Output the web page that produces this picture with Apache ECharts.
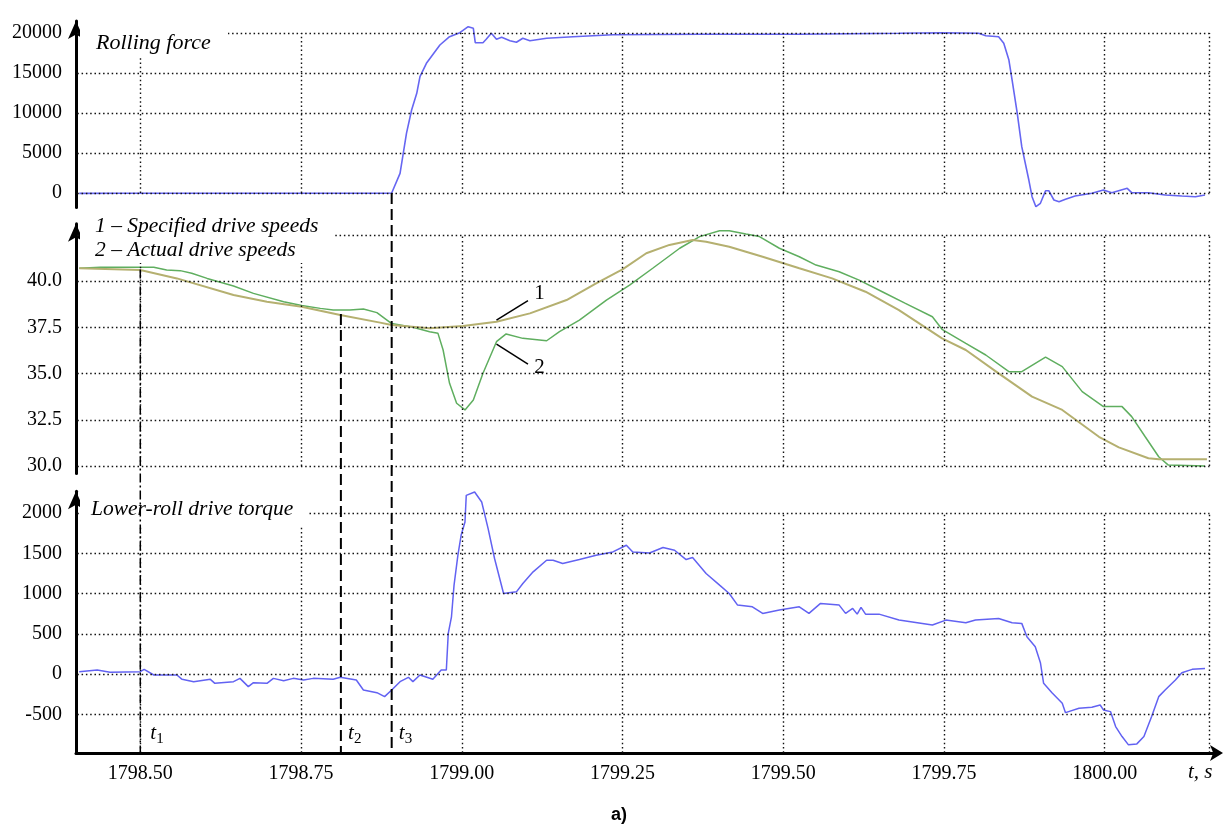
<!DOCTYPE html>
<html>
<head>
<meta charset="utf-8">
<script src="https://cdn.jsdelivr.net/npm/echarts@6/dist/echarts.min.js"></script>
<style>
  html, body { margin: 0; padding: 0; background: #fff; }
  #main { width: 1226px; height: 827px; }
</style>
</head>
<body>
<div id="main"></div>
<script>
// ---- data (time in s) ----
var forceT = [1798.405,1798.469,1798.593,1798.748,1798.880,1798.891,1798.904,1798.909,1798.914,1798.922,1798.930,1798.935,1798.945,1798.966,1798.981,1798.997,1799.010,1799.018,1799.021,1799.033,1799.038,1799.046,1799.054,1799.062,1799.075,1799.085,1799.095,1799.106,1799.132,1799.173,1799.235,1799.370,1799.525,1799.680,1799.747,1799.804,1799.815,1799.835,1799.843,1799.851,1799.856,1799.864,1799.871,1799.882,1799.887,1799.893,1799.900,1799.908,1799.913,1799.921,1799.929,1799.939,1799.954,1799.980,1799.998,1800.011,1800.035,1800.042,1800.068,1800.094,1800.120,1800.141,1800.156];
var forceV = [-50,-30,-40,-30,-30,0,2460,4960,7460,10380,12460,14540,16210,18500,19540,20040,20790,20590,18790,18790,19210,19960,19210,19460,19040,18840,19340,19040,19340,19540,19790,19850,19840,19960,20040,19960,19660,19540,18710,16620,14120,9960,5790,1620,-460,-1710,-1290,290,290,-875,-1090,-790,-375,-40,375,40,585,40,40,-250,-375,-460,-250];

var specT = [1798.405,1798.500,1798.557,1798.645,1798.697,1798.751,1798.811,1798.873,1798.891,1798.950,1799.002,1799.054,1799.106,1799.163,1799.209,1799.250,1799.287,1799.323,1799.359,1799.380,1799.416,1799.468,1799.525,1799.576,1799.628,1799.680,1799.747,1799.784,1799.835,1799.887,1799.934,1799.991,1800.022,1800.068,1800.084,1800.159];
var specV = [40.69,40.59,40.14,39.24,38.88,38.61,38.16,37.75,37.62,37.44,37.57,37.80,38.25,38.97,39.87,40.63,41.50,41.95,42.22,42.12,41.85,41.31,40.69,40.14,39.42,38.43,36.90,36.27,35.01,33.75,33.03,31.58,31.01,30.42,30.36,30.36];

var actT = [1798.405,1798.438,1798.521,1798.541,1798.562,1798.580,1798.604,1798.645,1798.676,1798.723,1798.751,1798.780,1798.800,1798.826,1798.847,1798.868,1798.891,1798.924,1798.950,1798.963,1798.971,1798.981,1798.992,1799.005,1799.018,1799.033,1799.054,1799.069,1799.095,1799.132,1799.152,1799.183,1799.225,1799.261,1799.297,1799.339,1799.370,1799.401,1799.416,1799.442,1799.463,1799.494,1799.525,1799.551,1799.587,1799.618,1799.654,1799.690,1799.732,1799.747,1799.784,1799.815,1799.851,1799.871,1799.908,1799.934,1799.965,1799.998,1800.027,1800.042,1800.063,1800.084,1800.099,1800.156];
var actV = [40.69,40.74,40.74,40.59,40.56,40.42,40.14,39.73,39.33,38.88,38.67,38.52,38.43,38.43,38.49,38.29,37.70,37.50,37.26,37.17,36.27,34.47,33.39,33.03,33.57,35.01,36.72,37.14,36.90,36.77,37.26,37.89,38.97,39.78,40.69,41.77,42.40,42.72,42.72,42.54,42.40,41.77,41.31,40.86,40.50,40.05,39.42,38.79,38.07,37.39,36.63,36.00,35.10,35.10,35.88,35.37,34.02,33.21,33.21,32.67,31.58,30.50,30.05,30.00];

var torqT = [1798.405,1798.433,1798.453,1798.500,1798.506,1798.521,1798.557,1798.565,1798.583,1798.609,1798.616,1798.645,1798.655,1798.668,1798.676,1798.697,1798.707,1798.723,1798.738,1798.754,1798.769,1798.800,1798.811,1798.836,1798.847,1798.868,1798.880,1798.891,1798.904,1798.917,1798.924,1798.935,1798.955,1798.968,1798.976,1798.979,1798.984,1798.988,1798.994,1798.999,1799.005,1799.007,1799.020,1799.031,1799.041,1799.051,1799.065,1799.085,1799.095,1799.111,1799.132,1799.142,1799.157,1799.183,1799.209,1799.235,1799.256,1799.266,1799.292,1799.313,1799.331,1799.349,1799.359,1799.380,1799.401,1799.416,1799.429,1799.452,1799.468,1799.494,1799.525,1799.540,1799.558,1799.587,1799.597,1799.608,1799.615,1799.621,1799.628,1799.649,1799.680,1799.732,1799.753,1799.784,1799.799,1799.835,1799.856,1799.871,1799.879,1799.892,1799.900,1799.905,1799.918,1799.934,1799.939,1799.960,1799.980,1799.993,1799.998,1800.009,1800.017,1800.027,1800.037,1800.050,1800.061,1800.073,1800.084,1800.094,1800.110,1800.120,1800.136,1800.156];
var torqV = [29,50,21,29,58,-12,-12,-66,-95,-66,-116,-95,-54,-157,-108,-116,-54,-83,-54,-75,-54,-66,-41,-75,-198,-232,-281,-198,-95,-41,-95,-12,-66,50,50,505,711,1104,1476,1724,1889,2220,2261,2137,1807,1435,1001,1021,1125,1269,1414,1414,1373,1422,1476,1517,1600,1517,1504,1571,1538,1422,1447,1249,1104,1001,856,835,753,794,835,753,877,856,753,815,744,827,744,744,670,608,670,637,670,690,637,629,463,339,141,-116,-232,-364,-480,-426,-414,-385,-446,-467,-653,-777,-880,-868,-777,-529,-281,-198,-74,16,58,70];

// ticks
var timeTicks = [1798.5, 1798.75, 1799.0, 1799.25, 1799.5, 1799.75, 1800.0];
var forceTicks = [0, 5000, 10000, 15000, 20000];
var speedGrid = [30, 32.5, 35, 37.5, 40, 42.5];
var speedTicks = [30, 32.5, 35, 37.5, 40];
var torqTicks = [-500, 0, 500, 1000, 1500, 2000];

// event marks t1, t2, t3 and the "1"/"2" leaders
var markTimes = [1798.5, 1798.812, 1798.891];
var markNames = ['1', '2', '3'];
var lead1 = [[1799.054, 37.89], [1799.103, 38.94], [1799.121, 39.35]];
var lead2 = [[1799.054, 36.59], [1799.103, 35.51], [1799.121, 35.30]];

var X_MIN = 1798.40, X_MAX = 1800.17, X_EDGE = 1800.163;
var SERIF = '"Liberation Serif", "DejaVu Serif", serif';

function zip(t, v) {
  return t.map(function (x, i) { return [x, v[i]]; });
}

// dotted grid drawn as marker lines so it can stop where the picture stops
function gridMarks(ys, yLow, yHigh) {
  var d = [];
  ys.forEach(function (y) {
    d.push([{ coord: [X_MIN + 0.002, y] }, { coord: [X_EDGE, y] }]);
  });
  timeTicks.concat([X_EDGE]).forEach(function (x) {
    d.push([{ coord: [x, yLow] }, { coord: [x, yHigh] }]);
  });
  return {
    silent: true,
    symbol: ['none', 'none'],
    animation: false,
    label: { show: false },
    lineStyle: { color: '#111', width: 1.4, type: [1.5, 2.8] },
    data: d
  };
}

function gridSeries(idx, ys, yLow, yHigh) {
  return {
    type: 'line', xAxisIndex: idx, yAxisIndex: idx,
    data: [[X_MIN + 0.01, ys[0]]], symbol: 'none', silent: true,
    lineStyle: { width: 0 }, z: 1,
    markLine: gridMarks(ys, yLow, yHigh)
  };
}

function yAxisOf(idx, min, max, ticks, fmt) {
  return {
    gridIndex: idx, type: 'value', min: min, max: max,
    axisLine: {
      show: true, onZero: false,
      lineStyle: { color: '#000', width: 3 },
      symbol: ['none', 'arrow'], symbolSize: [12, 18]
    },
    axisTick: { show: false },
    splitLine: { show: false },
    axisLabel: {
      customValues: ticks, margin: 14,
      fontFamily: SERIF, fontSize: 20, color: '#000',
      formatter: fmt
    }
  };
}

function xAxisOf(idx, visible) {
  return {
    gridIndex: idx, type: 'value', min: X_MIN, max: X_MAX, show: visible,
    axisLine: {
      show: true, onZero: false,
      lineStyle: { color: '#000', width: 3 },
      symbol: ['none', 'arrow'], symbolSize: [12, 13], symbolOffset: [0, 9]
    },
    axisTick: { show: false },
    splitLine: { show: false },
    axisLabel: {
      customValues: timeTicks, margin: 11,
      fontFamily: SERIF, fontSize: 20, color: '#000',
      formatter: function (v) { return v.toFixed(2); }
    }
  };
}

var chart = echarts.init(document.getElementById('main'));

var option = {
  backgroundColor: '#fff',
  animation: false,
  grid: [
    { left: 76, right: 12, top: 21, height: 186.4, outerBoundsMode: 'none' },
    { left: 76, right: 12, top: 223.65, height: 249.75, outerBoundsMode: 'none' },
    { left: 76, right: 12, top: 491.3, height: 261.6, outerBoundsMode: 'none' }
  ],
  xAxis: [xAxisOf(0, false), xAxisOf(1, false), xAxisOf(2, true)],
  yAxis: [
    yAxisOf(0, -1800, 21500, forceTicks, function (v) { return String(v); }),
    yAxisOf(1, 29.6, 43.1, speedTicks, function (v) { return v.toFixed(1); }),
    yAxisOf(2, -980, 2270, torqTicks, function (v) { return String(v); })
  ],
  series: [
    gridSeries(0, forceTicks, 0, 20000),
    gridSeries(1, speedGrid, 30, 42.5),
    gridSeries(2, torqTicks, -979, 2000),
    {
      name: 'Rolling force', type: 'line', xAxisIndex: 0, yAxisIndex: 0,
      data: zip(forceT, forceV), symbol: 'none', z: 3,
      lineStyle: { color: '#6666f2', width: 1.6 }
    },
    {
      name: 'Actual drive speeds', type: 'line', xAxisIndex: 1, yAxisIndex: 1,
      data: zip(actT, actV), symbol: 'none', z: 3,
      lineStyle: { color: '#5fae5f', width: 1.5 }
    },
    {
      name: 'Specified drive speeds', type: 'line', xAxisIndex: 1, yAxisIndex: 1,
      data: zip(specT, specV), symbol: 'none', z: 4,
      lineStyle: { color: '#b5b070', width: 2 }
    },
    {
      name: 'Lower-roll drive torque', type: 'line', xAxisIndex: 2, yAxisIndex: 2,
      data: zip(torqT, torqV), symbol: 'none', z: 3,
      lineStyle: { color: '#6262f2', width: 1.5 }
    }
  ]
};
chart.setOption(option);

// ---- overlay: captions, event lines, leaders ----
function P(g, t, v) { return chart.convertToPixel({ gridIndex: g }, [t, v]); }

function seg(a, b, style, z) {
  return { type: 'line', z: z || 20, silent: true,
    shape: { x1: a[0], y1: a[1], x2: b[0], y2: b[1] }, style: style };
}
function txt(x, y, s, font, extra) {
  var st = { text: s, x: x, y: y, font: font, fill: '#000', verticalAlign: 'middle', align: 'left' };
  for (var k in extra) st[k] = extra[k];
  return { type: 'text', z: 30, silent: true, style: st };
}
function box(x, y, w, h) {
  return { type: 'rect', z: 10, silent: true, shape: { x: x, y: y, width: w, height: h }, style: { fill: '#fff' } };
}

var ital = 'italic 20px ' + SERIF;
var cap = 'italic 21.5px ' + SERIF;
var plain = '21px ' + SERIF;
var g = [];

// white boxes under the panel captions
g.push(box(80, 24, 148, 33));
g.push(box(80, 214, 253, 49));
g.push(box(80, 490, 228, 37));
g.push(txt(96, 43, 'Rolling force', 'italic 22px ' + SERIF));
g.push(txt(95, 226, '1 \u2013 Specified drive speeds', cap));
g.push(txt(95, 250, '2 \u2013 Actual drive speeds', cap));
g.push(txt(91, 509, 'Lower-roll drive torque', cap));

// event lines t1..t3
var bottomY = P(2, markTimes[0], -980)[1];
var starts = [P(1, markTimes[0], 40.62), P(1, markTimes[1], 38.22), P(0, markTimes[2], 0)];
var dashes = [[9, 3, 2, 3], [11, 5], [11, 5]];
var widths = [1.5, 2, 2];
markTimes.forEach(function (t, i) {
  var top = starts[i];
  g.push(seg(top, [top[0], bottomY], { stroke: '#000', lineWidth: widths[i], lineDash: dashes[i] }));
  var lx = top[0] + (i === 0 ? 10 : 7);
  var ly = P(2, t, -740)[1];
  g.push(txt(lx, ly, 't', 'italic 21px ' + SERIF));
  g.push(txt(lx + 6, ly + 5, markNames[i], '15px ' + SERIF));
});

// leaders "1" and "2"
[[lead1, '1'], [lead2, '2']].forEach(function (L) {
  var a = P(1, L[0][0][0], L[0][0][1]);
  var b = P(1, L[0][1][0], L[0][1][1]);
  var c = P(1, L[0][2][0], L[0][2][1]);
  g.push(seg(a, b, { stroke: '#000', lineWidth: 1.5 }));
  g.push(txt(c[0], c[1], L[1], plain, { align: 'center' }));
});

// axis name and panel tag
var axEnd = P(2, X_MAX, -980);
g.push(txt(1188, axEnd[1] + 20, 't, s', 'italic 21px ' + SERIF));
g.push(txt(619, 815, 'a)', 'bold 18px "Liberation Sans", Arial, sans-serif', { align: 'center' }));

chart.setOption({ graphic: g });
</script>
</body>
</html>
